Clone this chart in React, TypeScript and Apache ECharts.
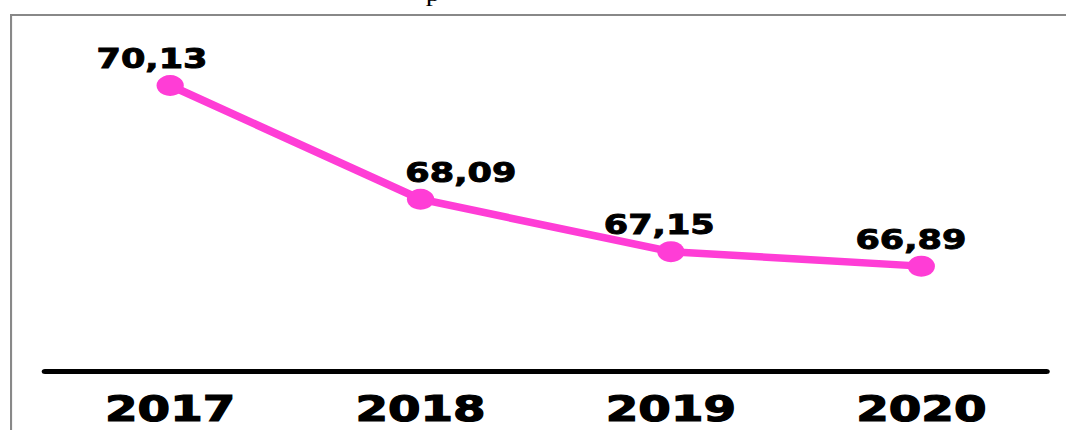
import React, { useEffect, useRef } from "react";
import * as echarts from "echarts";

const years = ["2017", "2018", "2019", "2020"];
const values = [70.13, 68.09, 67.15, 66.89];
const valueLabels = ["70,13", "68,09", "67,15", "66,89"];
const labelShiftX = [-14, 31, -9, -8];

const STRETCH = 1.3;
const W = 820;
const H = 430;

export default function App() {
  const ref = useRef<HTMLDivElement>(null);
  useEffect(() => {
    if (!ref.current) return;
    const chart = echarts.init(ref.current, null, { renderer: "svg" });
    chart.setOption({
      animation: false,
      backgroundColor: "#ffffff",
      grid: { left: 34.6, right: 15, top: 37, bottom: 58.5, containLabel: false },
      xAxis: {
        type: "category",
        data: years,
        boundaryGap: true,
        axisLine: { show: true, lineStyle: { color: "#000", width: 5 } },
        axisTick: { show: false },
        axisLabel: {
          color: "#000",
          fontFamily: "DejaVu Sans",
          fontWeight: "bold",
          fontSize: 36,
          margin: 19,
          textBorderColor: "#000",
          textBorderWidth: 1.2,
        },
      },
      yAxis: {
        type: "value",
        min: 65,
        max: 71,
        show: false,
        splitLine: { show: false },
      },
      graphic: [
        {
          type: "line",
          shape: { x1: 8.5, y1: 15, x2: W + 5, y2: 15 },
          style: { stroke: "#888", lineWidth: 2 },
          silent: true,
        },
        {
          type: "line",
          shape: { x1: 8.5, y1: 14, x2: 8.5, y2: H + 5 },
          style: { stroke: "#888", lineWidth: 1.6 },
          silent: true,
        },
        {
          type: "text",
          x: 333,
          y: 5,
          style: {
            text: "p",
            fill: "#000",
            font: "22px 'Liberation Serif'",
            align: "center",
            verticalAlign: "bottom",
          },
          silent: true,
        },
      ],
      series: [
        {
          type: "line",
          data: values.map((v, i) => ({
            value: v,
            label: {
              offset: [labelShiftX[i], 0],
              formatter: () => valueLabels[i],
            },
          })),
          symbol: "circle",
          symbolSize: 21,
          lineStyle: { color: "#ff3dd6", width: 7.5 },
          itemStyle: { color: "#ff3dd6" },
          label: {
            show: true,
            position: "top",
            distance: 3,
            color: "#000",
            fontFamily: "DejaVu Sans",
            fontWeight: "bold",
            fontSize: 27,
            textBorderColor: "#000",
            textBorderWidth: 0.9,
          },
        },
      ],
    });
    return () => chart.dispose();
  }, []);
  return (
    <div
      ref={ref}
      style={{
        position: "absolute",
        left: 0,
        top: 0,
        width: W,
        height: H,
        transform: `scaleX(${STRETCH})`,
        transformOrigin: "0 0",
      }}
    />
  );
}
